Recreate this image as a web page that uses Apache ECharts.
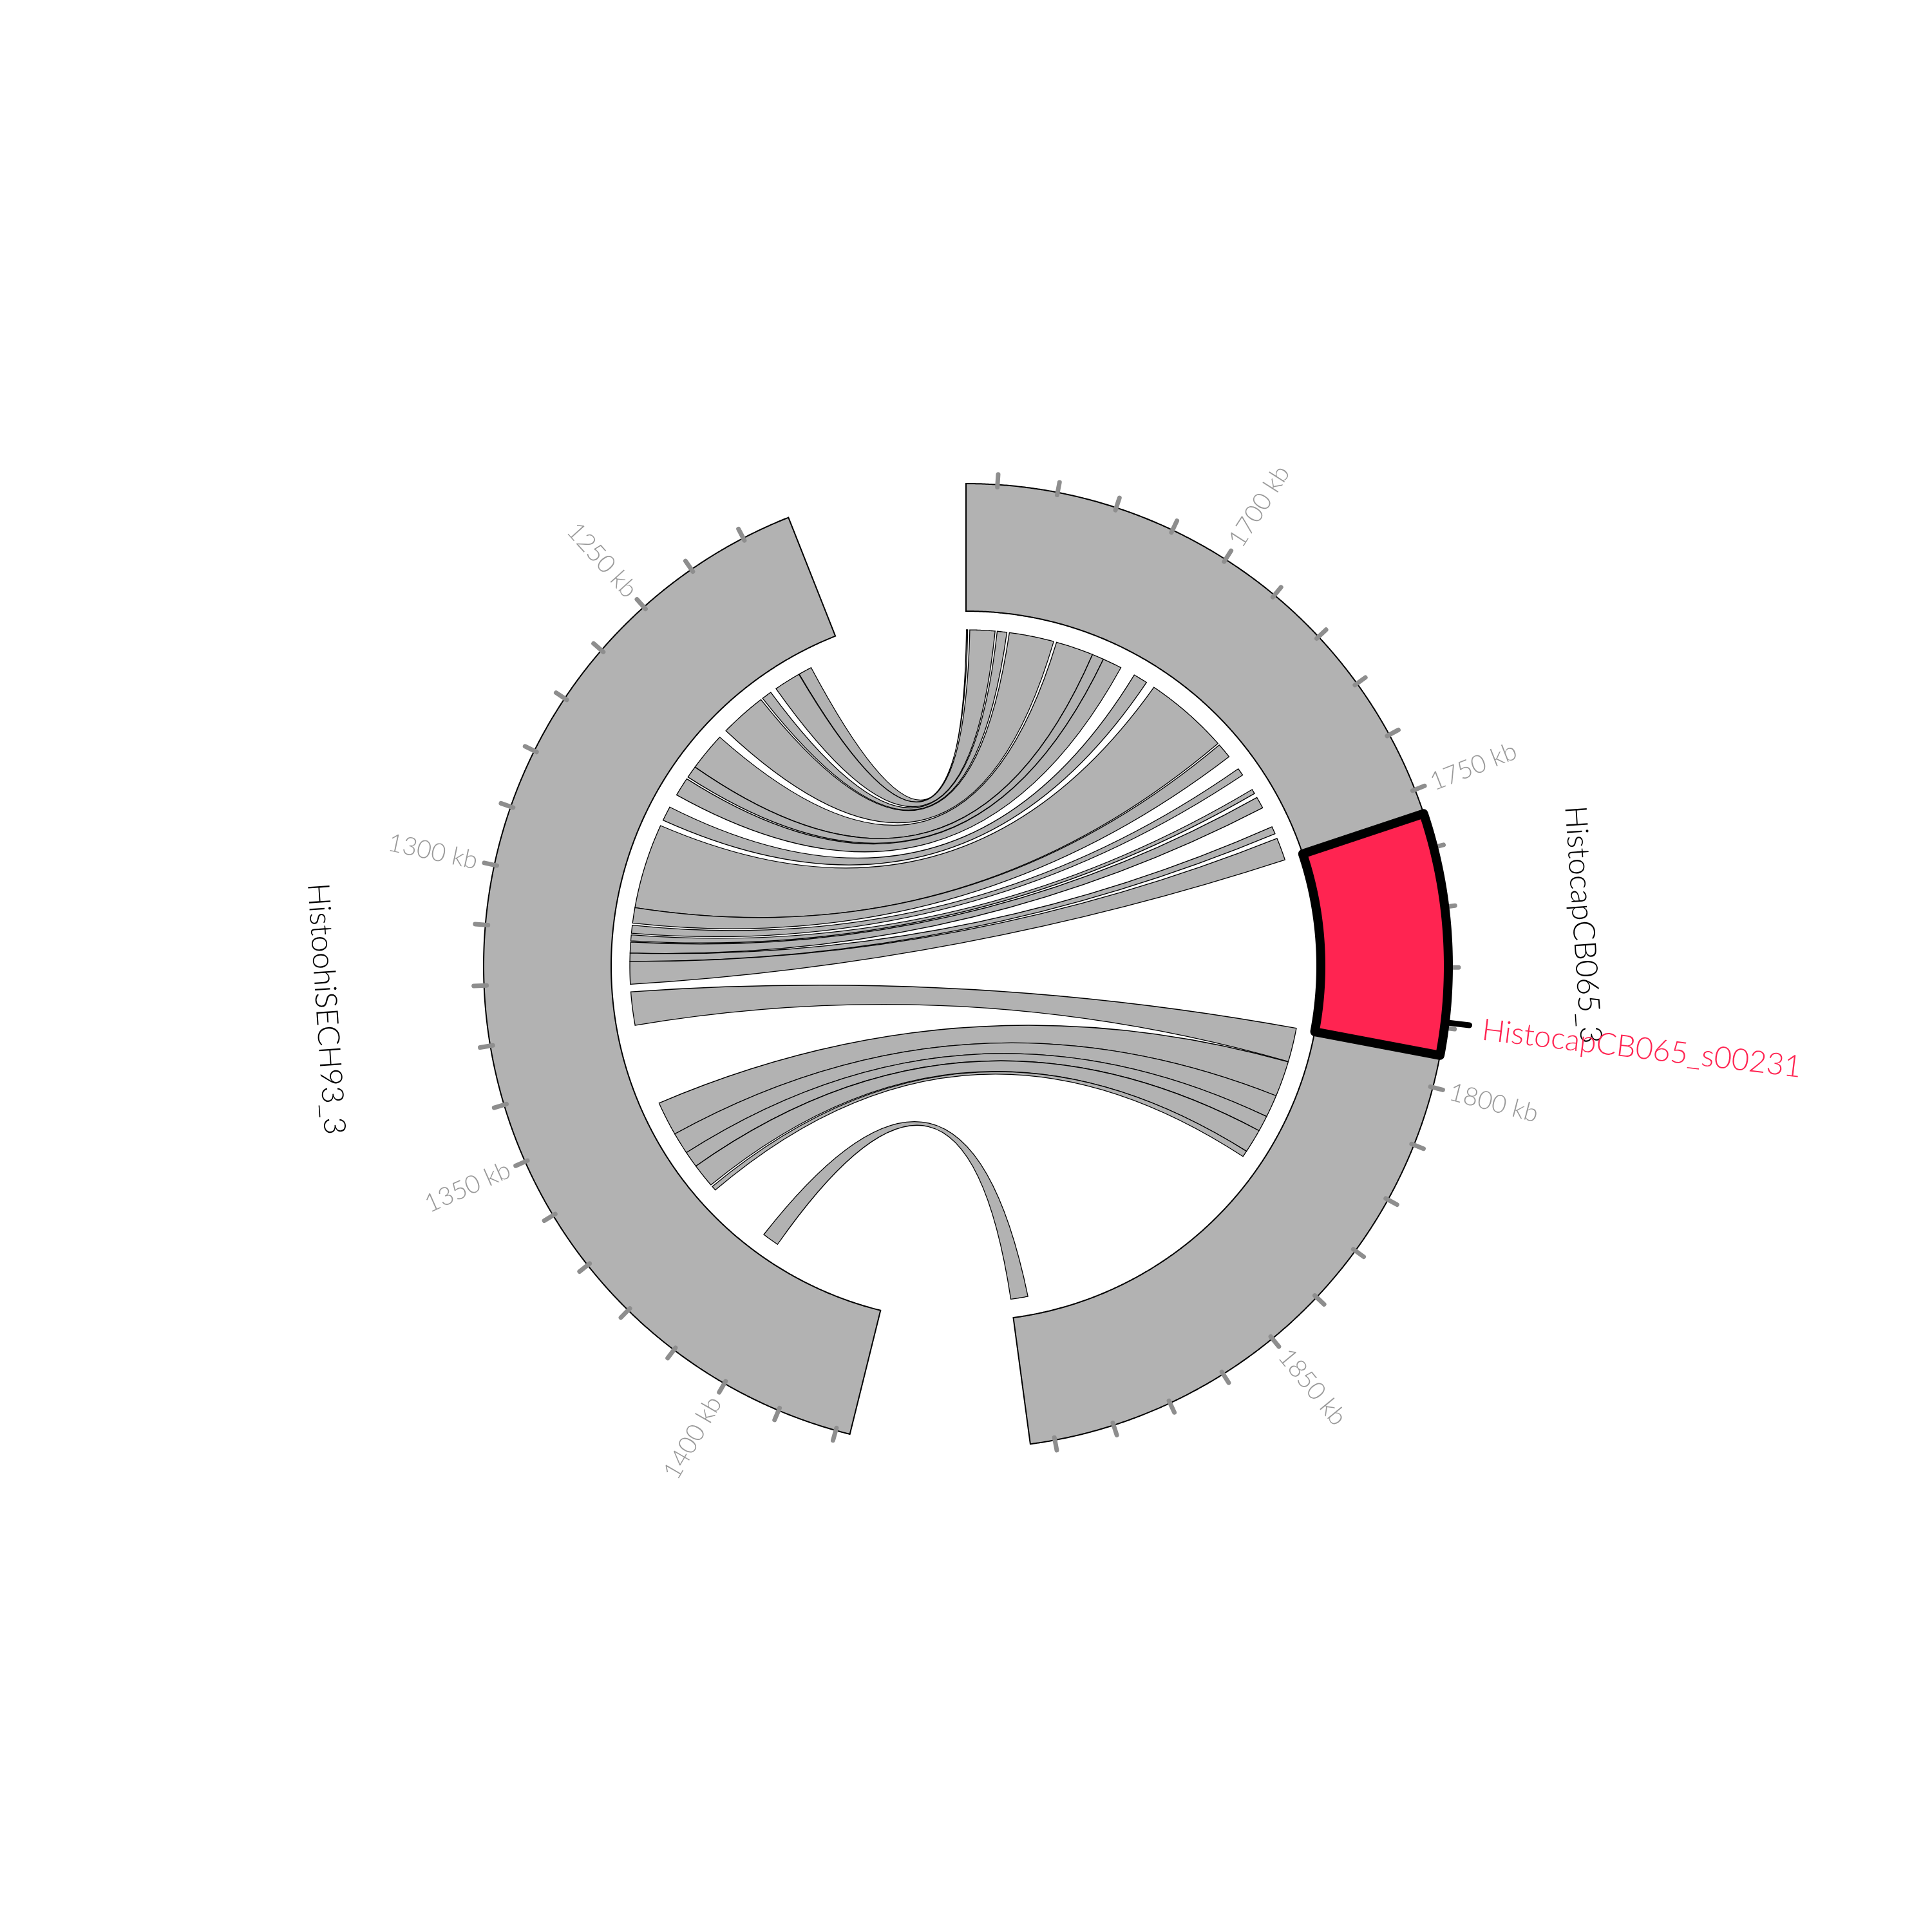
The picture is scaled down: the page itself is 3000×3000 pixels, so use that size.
<!DOCTYPE html>
<html>
<head>
<meta charset="utf-8">
<script src="https://cdn.jsdelivr.net/npm/echarts/dist/echarts.min.js"></script>
<style>
html,body{margin:0;padding:0;background:#ffffff;}
#chart{width:3000px;height:3000px;}
</style>
</head>
<body>
<div id="chart"></div>
<script>
// ---------------- DATA ----------------
const segNames   = ['HistocapCB065_3', 'HistoohiSECH93_3'];
const segStartKb = [1654.8, 1221.8];
const segEndKb   = [1894.1, 1422.4];
const segDirection = [1, -1];          // 1 = clockwise, -1 = counter-clockwise

const highlightName    = 'HistocapCB065_s00231';
const highlightStartKb = [1754.2];
const highlightEndKb   = [1794.6];
const highlightLabelKb = [1789.1];

// links: right segment (HistocapCB065_3) <-> left segment (HistoohiSECH93_3), kb
const linkRightStart = [1654.9, 1655.7, 1662.2, 1665.1, 1676.5, 1685.5, 1688.3, 1696.5, 1702.0, 1722.7, 1729.9, 1735.8, 1738.0, 1745.8, 1748.8, 1794.6, 1802.8, 1811.3, 1816.7, 1820.5, 1826.2, 1890.0];
const linkRightEnd   = [1655.2, 1661.7, 1664.5, 1675.8, 1685.5, 1688.3, 1692.9, 1699.9, 1722.2, 1726.3, 1731.7, 1736.9, 1740.8, 1747.6, 1754.2, 1802.7, 1811.3, 1816.7, 1820.5, 1826.2, 1827.7, 1894.1];
const linkLeftStart  = [1229.9, 1233.2, 1241.1, 1244.0, 1257.2, 1266.4, 1269.8, 1277.6, 1282.5, 1302.9, 1307.1, 1309.4, 1311.1, 1313.7, 1315.7, 1322.9, 1350.2, 1358.4, 1363.6, 1367.5, 1373.7, 1390.4];
const linkLeftEnd    = [1233.1, 1239.6, 1243.5, 1255.1, 1266.4, 1269.3, 1274.3, 1281.1, 1302.9, 1306.6, 1309.0, 1310.8, 1313.7, 1315.7, 1321.1, 1330.9, 1358.4, 1363.6, 1367.5, 1373.2, 1374.8, 1394.4];

// ticks (kb)
const tickKbRight  = [1660,1670,1680,1690,1700,1710,1720,1730,1740,1750,1760,1770,1780,1790,1800,1810,1820,1830,1840,1850,1860,1870,1880,1890];
const tickKbLeft   = [1230,1240,1250,1260,1270,1280,1290,1300,1310,1320,1330,1340,1350,1360,1370,1380,1390,1400,1410,1420];
const labelKbRight = [1700, 1750, 1800, 1850];
const labelKbLeft  = [1250, 1300, 1350, 1400];

// ---------------- LAYOUT ----------------
const GAP_DEG = 21.6;
const R_OUT = 749, R_IN = 551, R_LINK = 522, CTRL_K = 0.05;
const totalKb = (segEndKb[0]-segStartKb[0]) + (segEndKb[1]-segStartKb[1]);
const DPK = (360 - 2*GAP_DEG) / totalKb;
const segBaseAngle = [0, 360 - GAP_DEG];
function kbToAngle(seg, kb){ return segBaseAngle[seg] + segDirection[seg]*(kb - segStartKb[seg])*DPK; }

const FONT = 'Lato, "Open Sans", sans-serif';
const GREY = '#b2b2b2';

function P(api, r, a){ const p = api.coord([r, a]); return p[0].toFixed(2)+' '+p[1].toFixed(2); }
function arc(api, r, a0, a1, move){
  const n = Math.max(2, Math.ceil(Math.abs(a1-a0)/0.2)+1);
  let s = '';
  for (let k=0;k<n;k++){
    const a = a0 + (a1-a0)*k/(n-1);
    s += ((k===0 && move)?'M':'L') + P(api, r, a) + ' ';
  }
  return s;
}
function bandPath(api, r0, r1, a0, a1){
  return arc(api, r1, a0, a1, true) + arc(api, r0, a1, a0, false) + 'Z';
}
// control point: slightly pulled from centre toward the chord midpoint
function ctrl(api, a, b){
  const ra = a*Math.PI/180, rb = b*Math.PI/180;
  const x = Math.sin(ra)+Math.sin(rb), y = Math.cos(ra)+Math.cos(rb);
  const ang = Math.atan2(x, y)*180/Math.PI;
  const rad = CTRL_K * R_LINK * Math.sqrt(x*x + y*y) / 2;
  return P(api, rad, ang);
}

const segData = segNames.map((n,i)=>[segStartKb[i], segEndKb[i], i]);
const linkData = linkRightStart.map((v,i)=>[v, linkRightEnd[i], linkLeftStart[i], linkLeftEnd[i]]);
const tickData = tickKbRight.map(k=>[k,0]).concat(tickKbLeft.map(k=>[k,1]));
const tickLabelData = labelKbRight.map(k=>[k,0]).concat(labelKbLeft.map(k=>[k,1]));
const hlData = highlightStartKb.map((v,i)=>[v, highlightEndKb[i], highlightLabelKb[i]]);

const chart = echarts.init(document.getElementById('chart'), null, {renderer:'canvas'});
const option = {
  animation: false,
  backgroundColor: '#ffffff',
  polar: { center: ['50%','50%'], radius: 1000 },
  angleAxis: { type:'value', min:0, max:360, startAngle:90, clockwise:true, show:false,
               axisLine:{show:false}, axisTick:{show:false}, axisLabel:{show:false}, splitLine:{show:false} },
  radiusAxis: { type:'value', min:0, max:1000, show:false,
               axisLine:{show:false}, axisTick:{show:false}, axisLabel:{show:false}, splitLine:{show:false} },
  series: [
    { // segments
      type:'custom', coordinateSystem:'polar', silent:true, z:2, data: segData,
      renderItem: function(params, api){
        const seg = api.value(2);
        const a0 = kbToAngle(seg, api.value(0)), a1 = kbToAngle(seg, api.value(1));
        return { type:'path', shape:{ pathData: bandPath(api, R_IN, R_OUT, Math.min(a0,a1), Math.max(a0,a1)) },
                 style:{ fill: GREY, stroke:'#000', lineWidth:2 } };
      }
    },
    { // segment names (tangential, reading downward)
      type:'custom', coordinateSystem:'polar', silent:true, z:2, data: segData,
      renderItem: function(params, api){
        const seg = api.value(2);
        const a = (kbToAngle(seg, api.value(0)) + kbToAngle(seg, api.value(1)))/2;
        const r = seg === 0 ? 960 : 996;
        const p = api.coord([r, a]);
        const rotDeg = a < 180 ? a : (a - 180);
        return { type:'text', x:p[0], y:p[1], rotation: -rotDeg*Math.PI/180,
                 style:{ text: segNames[seg], fill:'#000', fontSize:47, fontFamily:FONT, fontWeight:300,
                         align:'center', verticalAlign:'middle' } };
      }
    },
    { // ticks
      type:'custom', coordinateSystem:'polar', silent:true, z:3, data: tickData,
      renderItem: function(params, api){
        const a = kbToAngle(api.value(1), api.value(0));
        const p0 = api.coord([R_OUT-4, a]), p1 = api.coord([R_OUT+16, a]);
        return { type:'line', shape:{x1:p0[0],y1:p0[1],x2:p1[0],y2:p1[1]},
                 style:{ stroke:'#8e8e8e', lineWidth:7, lineCap:'round' } };
      }
    },
    { // tick labels
      type:'custom', coordinateSystem:'polar', silent:true, z:3, data: tickLabelData,
      renderItem: function(params, api){
        const seg = api.value(1), kb = api.value(0);
        const a = kbToAngle(seg, kb);
        const p = api.coord([776, a]);
        const right = a < 180;
        const rotDeg = right ? (a - 90) : (a - 270);
        return { type:'text', x:p[0], y:p[1], rotation: -rotDeg*Math.PI/180,
                 style:{ text: kb + ' kb', fill:'#999999', fontSize:39, fontFamily:FONT, fontWeight:300,
                         align: right ? 'left' : 'right', verticalAlign:'middle' } };
      }
    },
    { // links
      type:'custom', coordinateSystem:'polar', silent:true, z:4, data: linkData,
      renderItem: function(params, api){
        const a1 = kbToAngle(0, api.value(0)), a2 = kbToAngle(0, api.value(1));
        const bLo = kbToAngle(1, api.value(2)), bHi = kbToAngle(1, api.value(3));
        let d = arc(api, R_LINK, a1, a2, true);
        d += 'Q' + ctrl(api, a2, bHi) + ' ' + P(api, R_LINK, bHi) + ' ';
        d += arc(api, R_LINK, bHi, bLo, false);
        d += 'Q' + ctrl(api, bLo, a1) + ' ' + P(api, R_LINK, a1) + ' Z';
        return { type:'path', shape:{ pathData: d },
                 style:{ fill: GREY, stroke:'#000', lineWidth:1.3 } };
      }
    },
    { // highlighted region
      type:'custom', coordinateSystem:'polar', silent:true, z:5, data: hlData,
      renderItem: function(params, api){
        const a0 = kbToAngle(0, api.value(0)), a1 = kbToAngle(0, api.value(1));
        const la = kbToAngle(0, api.value(2));
        const q0 = api.coord([R_OUT+6, la]), q1 = api.coord([R_OUT+38, la]);
        const t = api.coord([807, la]);
        return { type:'group', children:[
          { type:'path', shape:{ pathData: bandPath(api, R_IN, R_OUT, a0, a1) },
            style:{ fill:'#ff2451', stroke:'#000', lineWidth:14, lineJoin:'round' } },
          { type:'line', shape:{x1:q0[0],y1:q0[1],x2:q1[0],y2:q1[1]},
            style:{ stroke:'#000', lineWidth:9, lineCap:'round' } },
          { type:'text', x:t[0], y:t[1] + 5, rotation: -(la-90)*Math.PI/180,
            style:{ text: highlightName, fill:'#ff2451', fontSize:47, fontFamily:FONT, fontWeight:300,
                    align:'left', verticalAlign:'middle' } }
        ]};
      }
    }
  ]
};
chart.setOption(option);
</script>
</body>
</html>
